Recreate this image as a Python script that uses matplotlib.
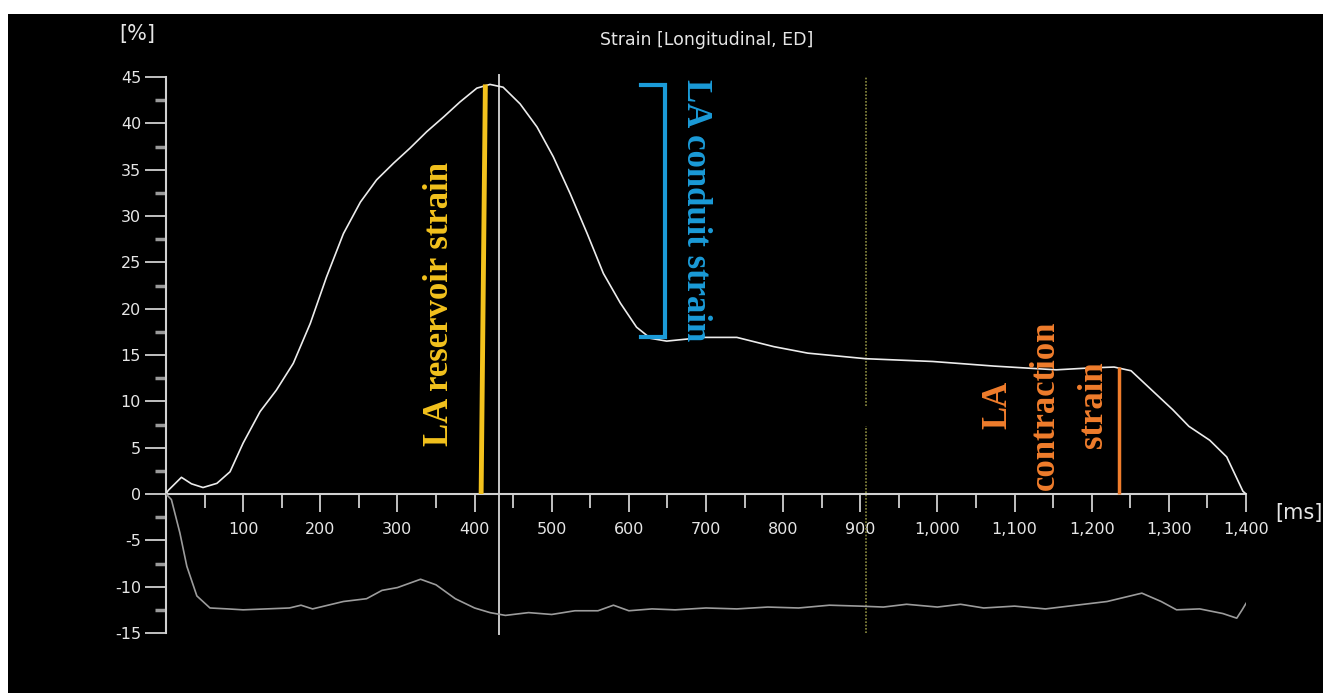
import numpy as np
import matplotlib.pyplot as plt
from matplotlib.patches import Rectangle

plt.rcParams['axes.unicode_minus'] = False

# strain curve [ms, %]
t_strain = [0, 3, 20, 33, 48, 66, 83, 100, 122, 143, 165, 187, 208, 230, 252, 273, 295,
            316, 338, 360, 381, 403, 420, 437, 459, 481, 502, 524, 546, 567, 589, 610,
            628, 649, 697, 740, 788, 832, 907, 994, 1074, 1154, 1197, 1229, 1251, 1278,
            1305, 1326, 1353, 1375, 1396, 1400]
strain = [0.0, 0.4, 1.8, 1.1, 0.7, 1.15, 2.4, 5.5, 8.9, 11.2, 14.1, 18.4, 23.4, 28.1, 31.5,
          33.9, 35.7, 37.3, 39.1, 40.7, 42.3, 43.8, 44.2, 43.9, 42.1, 39.6, 36.4, 32.4, 28.1,
          23.8, 20.6, 18.0, 16.8, 16.5, 16.9, 16.9, 15.9, 15.2, 14.6, 14.3, 13.8, 13.4, 13.6,
          13.7, 13.3, 11.2, 9.1, 7.3, 5.8, 4.0, 0.3, 0.0]

# lower (rate) trace
t_rate = [0, 7, 18, 27, 40, 57, 80, 100, 130, 160, 175, 190, 210, 230, 260, 280, 300, 330,
          350, 375, 400, 420, 440, 470, 500, 530, 560, 580, 600, 630, 660, 700, 740, 780,
          820, 860, 900, 930, 960, 1000, 1030, 1060, 1100, 1140, 1180, 1220, 1250, 1265,
          1290, 1310, 1340, 1370, 1388, 1395, 1400]
rate = [0.0, -0.6, -4.2, -7.8, -11.0, -12.3, -12.4, -12.5, -12.4, -12.3, -12.0, -12.4, -12.0,
        -11.6, -11.3, -10.4, -10.1, -9.2, -9.8, -11.3, -12.3, -12.8, -13.1, -12.8, -13.0,
        -12.6, -12.6, -12.0, -12.6, -12.4, -12.5, -12.3, -12.4, -12.2, -12.3, -12.0, -12.1,
        -12.2, -11.9, -12.2, -11.9, -12.3, -12.1, -12.4, -12.0, -11.6, -11.0, -10.7, -11.6,
        -12.5, -12.4, -12.9, -13.4, -12.5, -11.8]

# markers
reservoir_x = [408.5, 414]
reservoir_y = [0, 44.2]
conduit_x = [616, 647, 647, 616]
conduit_y = [44.1, 44.1, 16.9, 16.9]
contraction_x = 1236
contraction_top = 13.7
cursor_x = 432
dotted_x = 908

xticks = list(range(100, 1500, 100))
xlabels = ['{:,}'.format(v) for v in xticks]
yticks = list(range(-15, 50, 5))

W, H = 1323, 693
fig = plt.figure(figsize=(W / 100, H / 100), dpi=100)
fig.patch.set_facecolor('white')
fig.add_artist(Rectangle((8 / W, 0), 1 - 8 / W, (H - 14) / H, transform=fig.transFigure,
                         facecolor='black', edgecolor='none', zorder=-1))

ax = fig.add_axes([166 / W, (H - 633) / H, (1246 - 166) / W, (633 - 77) / H])
ax.set_facecolor('none')
ax.set_xlim(0, 1400)
ax.set_ylim(-15, 45)

axcol = '#d0d0d0'
for s in ['top', 'right']:
    ax.spines[s].set_visible(False)
ax.spines['left'].set_color(axcol)
ax.spines['bottom'].set_color(axcol)
ax.spines['left'].set_linewidth(1.5)
ax.spines['bottom'].set_linewidth(1.5)
ax.spines['bottom'].set_position(('data', 0))

ax.set_xticks(xticks)
ax.set_xticklabels(xlabels)
ax.set_xticks(list(range(50, 1400, 100)), minor=True)
ax.set_yticks(yticks)
ax.set_yticks(np.arange(-12.5, 45, 5), minor=True)
ax.tick_params(axis='x', which='major', direction='out', length=13, width=1.3,
               colors=axcol, labelsize=11.5, pad=7)
ax.tick_params(axis='x', which='minor', direction='out', length=10, width=1.3, colors=axcol)
ax.tick_params(axis='y', which='major', direction='out', length=15, width=1.3,
               colors=axcol, labelsize=11.5, pad=3)
ax.tick_params(axis='y', which='minor', direction='out', length=8, width=2.5, colors='#9a9a9a')
for lab in ax.get_xticklabels() + ax.get_yticklabels():
    lab.set_color('#e6e6e6')

ax.plot(t_strain, strain, color='#ececec', lw=1.2, zorder=3)
ax.plot(t_rate, rate, color='#9c9c9c', lw=1.2, zorder=3)

ax.plot([cursor_x, cursor_x], [-15.1, 45.2], color='#c8c8c8', lw=1.4, clip_on=False, zorder=2)
ax.plot([dotted_x, dotted_x], [9.5, 45.0], color='#8c8c40', lw=1.2, ls=(0, (1, 1)),
        clip_on=False, zorder=2)
ax.plot([dotted_x, dotted_x], [-15.0, 7.3], color='#8c8c40', lw=1.2, ls=(0, (1, 1)),
        clip_on=False, zorder=2)

ax.plot(reservoir_x, reservoir_y, color='#f3c21d', lw=3.5, zorder=4, solid_capstyle='butt')
ax.plot(conduit_x, conduit_y, color='#1b9bd8', lw=3, zorder=4, solid_joinstyle='miter')
ax.plot([contraction_x, contraction_x], [0, contraction_top], color='#f07d2c', lw=2.5,
        zorder=4, solid_capstyle='butt')

serif = dict(family='Liberation Serif', weight='bold', fontsize=25)
ax.text(355, 20.5, 'LA reservoir strain', color='#f3c21d', rotation=90,
        ha='center', va='center', **serif)
ax.text(686, 30.6, 'LA conduit strain', color='#1b9bd8', rotation=-90,
        ha='center', va='center', **serif)
ax.text(1140, 9.6, 'LA\ncontraction\nstrain', color='#f07d2c', rotation=90,
        ha='center', va='center', multialignment='center', linespacing=1.6, **serif)

fig.text(707 / W, 1 - 40 / H, 'Strain [Longitudinal, ED]', color='#e6e6e6',
         fontsize=12.5, ha='center', va='center')
fig.text(137 / W, 1 - 34 / H, '[%]', color='#e6e6e6', fontsize=15, ha='center', va='center')
fig.text(1275 / W, 1 - 513 / H, '[ms]', color='#e6e6e6', fontsize=15, ha='left', va='center')

fig.savefig('out.png', dpi=100, facecolor=fig.get_facecolor())
